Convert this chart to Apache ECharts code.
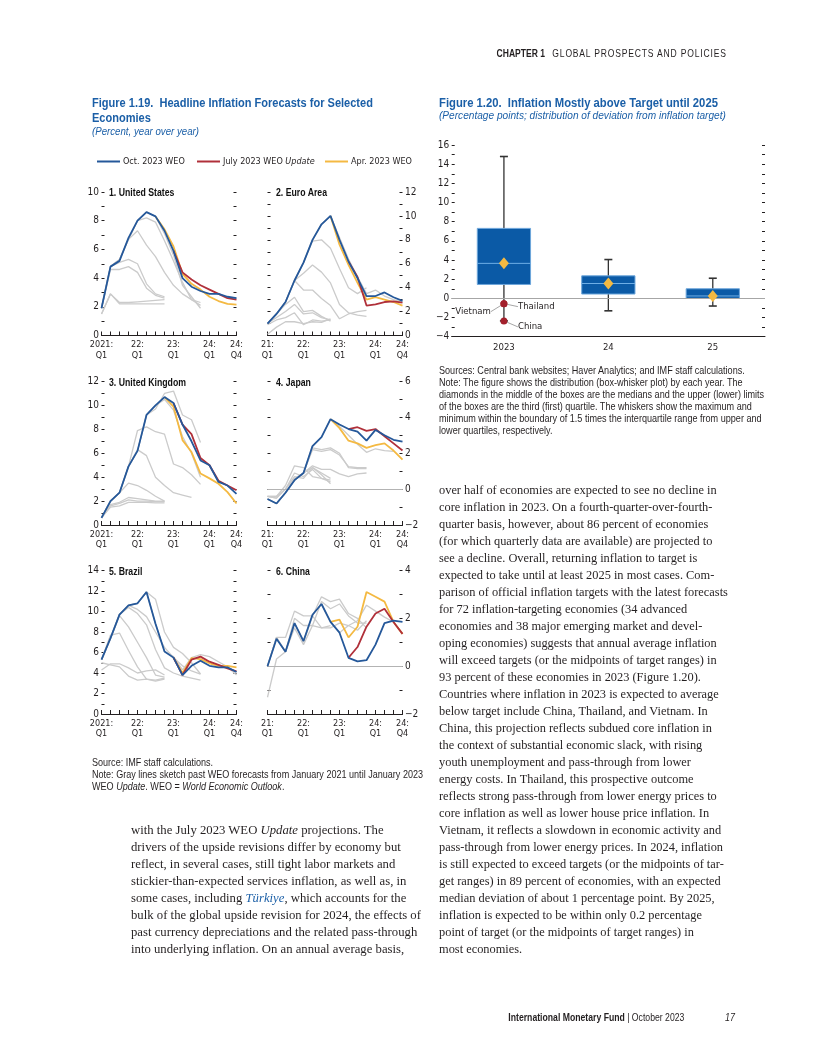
<!DOCTYPE html>
<html><head><meta charset="utf-8">
<script src="https://cdn.jsdelivr.net/npm/echarts@6/dist/echarts.min.js"></script>
<style>
html,body{margin:0;padding:0;background:#fff;}
#page{position:relative;width:816px;height:1056px;overflow:hidden;background:#fff;}
#chart{position:absolute;left:0;top:0;width:816px;height:1056px;}
.t{position:absolute;white-space:nowrap;font-family:"Liberation Sans",Arial,sans-serif;transform-origin:0 0;}
.t.r{transform-origin:100% 0;}
.ttl{color:#1b5fa7;font-weight:bold;font-size:12.5px;line-height:15px;}
.sub{color:#1b5fa7;font-style:italic;font-size:11.5px;line-height:13px;}
.note{color:#231f20;font-size:10.5px;line-height:12px;}
.pt{color:#111;font-weight:bold;font-size:10.5px;line-height:14px;transform:scaleX(0.83);}
.col{position:absolute;font-family:"Liberation Serif",serif;font-size:13px;line-height:17px;color:#231f20;transform-origin:0 0;}
.col div{white-space:nowrap;}
</style>
</head><body>
<div id="page">
<div id="chart"></div>

<div class="t r fit" data-w="230" style="right:89px;top:46px;font-size:10.5px;line-height:14px;color:#231f20;"><b>CHAPTER 1</b><span style="margin-left:9px;letter-spacing:1px;">GLOBAL PROSPECTS AND POLICIES</span></div>

<div class="t ttl fit" data-w="281" style="left:92px;top:96px;"><div>Figure 1.19.&nbsp; Headline Inflation Forecasts for Selected</div><div>Economies</div></div>
<div class="t sub fit" data-w="107" style="left:92px;top:125px;">(Percent, year over year)</div>

<div class="t ttl fit" data-w="279" style="left:439px;top:96px;">Figure 1.20.&nbsp; Inflation Mostly above Target until 2025</div>
<div class="t sub fit" data-w="287" style="left:439px;top:109px;">(Percentage points; distribution of deviation from inflation target)</div>

<div class="t pt" style="left:109px;top:185px;">1. United States</div>
<div class="t pt" style="left:276px;top:185px;">2. Euro Area</div>
<div class="t pt" style="left:109px;top:374.5px;">3. United Kingdom</div>
<div class="t pt" style="left:276px;top:374.5px;">4. Japan</div>
<div class="t pt" style="left:109px;top:563.5px;">5. Brazil</div>
<div class="t pt" style="left:276px;top:563.5px;">6. China</div>

<div class="t note fit" data-w="331" style="left:92px;top:756px;"><div>Source: IMF staff calculations.</div><div>Note: Gray lines sketch past WEO forecasts from January 2021 until January 2023</div><div>WEO <i>Update</i>. WEO = <i>World Economic Outlook</i>.</div></div>

<div class="t note fit" data-w="325" style="left:439px;top:364px;"><div>Sources: Central bank websites; Haver Analytics; and IMF staff calculations.</div><div>Note: The figure shows the distribution (box-whisker plot) by each year. The</div><div>diamonds in the middle of the boxes are the medians and the upper (lower) limits</div><div>of the boxes are the third (first) quartile. The whiskers show the maximum and</div><div>minimum within the boundary of 1.5 times the interquartile range from upper and</div><div>lower quartiles, respectively.</div></div>

<div class="col" id="colL" style="left:131px;top:821px;">
<div>with the July 2023 WEO <i>Update</i> projections. The</div>
<div>drivers of the upside revisions differ by economy but</div>
<div>reflect, in several cases, still tight labor markets and</div>
<div>stickier-than-expected services inflation, as well as, in</div>
<div>some cases, including <i style="color:#1b5fa7">Türkiye</i>, which accounts for the</div>
<div>bulk of the global upside revision for 2024, the effects of</div>
<div>past currency depreciations and the related pass-through</div>
<div>into underlying inflation. On an annual average basis,</div>
</div>

<div class="col" id="colR" style="left:439px;top:481px;">
<div>over half of economies are expected to see no decline in</div>
<div>core inflation in 2023. On a fourth-quarter-over-fourth-</div>
<div>quarter basis, however, about 86 percent of economies</div>
<div>(for which quarterly data are available) are projected to</div>
<div>see a decline. Overall, returning inflation to target is</div>
<div>expected to take until at least 2025 in most cases. Com-</div>
<div>parison of official inflation targets with the latest forecasts</div>
<div>for 72 inflation-targeting economies (34 advanced</div>
<div>economies and 38 major emerging market and devel-</div>
<div>oping economies) suggests that annual average inflation</div>
<div>will exceed targets (or the midpoints of target ranges) in</div>
<div>93 percent of these economies in 2023 (Figure 1.20).</div>
<div>Countries where inflation in 2023 is expected to average</div>
<div>below target include China, Thailand, and Vietnam. In</div>
<div>China, this projection reflects subdued core inflation in</div>
<div>the context of substantial economic slack, with rising</div>
<div>youth unemployment and pass-through from lower</div>
<div>energy costs. In Thailand, this prospective outcome</div>
<div>reflects strong pass-through from lower energy prices to</div>
<div>core inflation as well as lower house price inflation. In</div>
<div>Vietnam, it reflects a slowdown in economic activity and</div>
<div>pass-through from lower energy prices. In 2024, inflation</div>
<div>is still expected to exceed targets (or the midpoints of tar-</div>
<div>get ranges) in 89 percent of economies, with an expected</div>
<div>median deviation of about 1 percentage point. By 2025,</div>
<div>inflation is expected to be within only 0.2 percentage</div>
<div>point of target (or the midpoints of target ranges) in</div>
<div>most economies.</div>
</div>

<div class="t r fit" data-w="176" style="right:132px;top:1010px;font-size:10.5px;line-height:14px;color:#231f20;"><b>International Monetary Fund</b> | October 2023</div>
<div class="t" style="left:725px;top:1010px;font-size:10.5px;line-height:14px;font-style:italic;color:#231f20;transform:scaleX(0.85);">17</div>
</div>

<script>
// ---------------- DATA ----------------
const quarters = ['2021Q1','2021Q2','2021Q3','2021Q4','2022Q1','2022Q2','2022Q3','2022Q4',
                  '2023Q1','2023Q2','2023Q3','2023Q4','2024Q1','2024Q2','2024Q3','2024Q4'];
const tickIdx = [0, 4, 8, 12, 15];
const tickLabelsLong  = ['2021:\nQ1', '22:\nQ1', '23:\nQ1', '24:\nQ1', '24:\nQ4'];
const tickLabelsShort = ['21:\nQ1', '22:\nQ1', '23:\nQ1', '24:\nQ1', '24:\nQ4'];
const seriesNames = ['Oct. 2023 WEO', 'July 2023 WEO Update', 'Apr. 2023 WEO'];
const panelRanges = [[0, 10], [0, 12], [0, 12], [-2, 6], [0, 14], [-2, 4]];

const N = null;
// 1. United States
const usOct = [1.9, 4.8, 5.2, 6.8, 8.0, 8.6, 8.3, 7.3, 5.9, 4.0, 3.4, 3.1, 2.9, 2.9, 2.7, 2.6];
const usJul = [N, N, N, N, N, N, N, N, 5.9, 4.4, 3.9, 3.5, 3.2, 2.9, 2.6, 2.5];
const usApr = [N, N, N, N, N, N, 8.3, 7.4, 6.2, 4.3, 3.6, 3.2, 2.7, 2.4, 2.2, 2.15];
const usPast = [
  [1.5, 2.9, 2.3, 2.3, 2.35, 2.4, 2.45, 2.5],
  [1.5, 2.9, 2.2, 2.2, 2.2, 2.2, 2.2, 2.2],
  [1.9, 4.6, 4.6, 4.8, 4.4, 3.3, 2.8, 2.6],
  [1.9, 4.8, 5.1, 5.3, 5.0, 3.6, 2.9, 2.7],
  [1.9, 4.8, 5.3, 6.7, 7.3, 6.3, 5.5, 4.4, 3.5, 2.9, 2.5, 2.3],
  [1.9, 4.8, 5.3, 6.7, 8.0, 8.2, 7.9, 6.6, 5.2, 3.7, 2.5, 2.1],
  [1.9, 4.8, 5.3, 6.7, 8.0, 8.6, 8.3, 7.1, 5.6, 3.5, 2.7, 1.9]
];
// 2. Euro Area
const euOct = [1.0, 1.8, 2.8, 4.6, 6.1, 8.0, 9.3, 10.0, 8.0, 6.2, 4.8, 3.3, 3.3, 3.6, 3.2, 2.9];
const euJul = [N, N, N, N, N, N, N, N, N, 6.2, 4.9, 2.5, 2.6, 2.8, 2.85, 2.75];
const euApr = [N, N, N, N, N, N, N, 10.0, 7.6, 5.9, 4.4, 3.0, 3.2, 3.0, 2.8, 2.5];
const euPast = [
  [0.1, 0.7, 1.15, 1.15, 1.0, 1.15, 1.1, 1.4],
  [0.9, 1.3, 1.5, 1.9, 0.9, 1.3, 1.2, 1.3],
  [1.0, 1.5, 2.0, 2.6, 1.8, 1.9, 1.5, 1.3],
  [1.0, 1.8, 2.6, 3.2, 2.0, 2.1, 1.6, 1.2],
  [1.0, 1.8, 2.8, 4.6, 3.8, 3.8, 3.1, 2.5, 1.4, 1.8, 2.0, 2.1],
  [1.0, 1.8, 2.8, 4.6, 5.2, 5.9, 5.3, 4.4, 2.6, 1.9, 1.7, 1.6],
  [1.0, 1.8, 2.8, 4.6, 6.1, 7.9, 8.0, 7.3, 5.6, 4.0, 3.5, 4.0],
  [1.0, 1.8, 2.8, 4.6, 6.1, 8.0, 9.3, 10.0, 8.2, 6.4, 4.9, 3.5, 3.8, 3.3, 3.0, 2.8]
];
// 3. United Kingdom
const ukOct = [0.6, 2.0, 2.7, 4.9, 6.2, 9.2, 10.0, 10.7, 10.2, 8.4, 7.0, 5.4, 5.0, 3.6, 3.3, 2.6];
const ukJul = [N, N, N, N, N, N, N, N, 10.2, 8.4, 7.6, 5.6, 5.0, 3.7, 3.3, 2.9];
const ukApr = [N, N, N, N, N, N, N, 10.7, 9.9, 7.1, 6.1, 4.3, 3.9, 3.45, 2.75, 1.8];
const ukPast = [
  [0.6, 1.5, 1.6, 1.9, 1.9, 1.9, 1.85, 1.85],
  [0.6, 1.6, 1.8, 2.1, 2.0, 2.0, 1.95, 1.95],
  [0.6, 1.7, 1.9, 2.3, 2.2, 2.1, 2.0, 2.0],
  [0.6, 2.0, 2.7, 3.5, 3.3, 2.9, 2.4, 2.0],
  [0.6, 2.0, 2.7, 4.9, 6.3, 5.8, 4.0, 3.3, 2.7, 2.5, 2.3],
  [0.6, 2.0, 2.7, 4.9, 7.9, 8.2, 7.8, 7.6, 5.1, 4.8, 4.2, 3.4],
  [0.6, 2.0, 2.7, 4.9, 6.2, 9.2, 9.7, 11.0, 11.2, 9.2, 8.8, 6.9],
  [0.6, 2.0, 2.7, 4.9, 6.2, 9.2, 10.0, 10.5, 9.6, 7.4, 6.0, 4.0]
];
// 4. Japan
const jpOct = [-0.55, -0.8, -0.2, 0.5, 0.9, 2.4, 2.9, 3.9, 3.6, 3.35, 3.2, 2.7, 3.3, 3.0, 2.75, 2.65];
const jpJul = [N, N, N, N, N, N, N, N, N, 3.35, 3.45, 3.25, 3.35, 2.95, 2.55, 2.15];
const jpApr = [N, N, N, N, N, N, N, 3.9, 3.4, 2.7, 2.55, 2.3, 2.45, 2.55, 2.15, 1.65];
const jpPast = [
  [-0.4, -0.5, 0.0, 0.9, 0.7, 1.1, 0.6, 0.5],
  [-0.4, -0.4, 0.2, 1.3, 1.2, 0.7, 0.6, 0.4],
  [-0.4, -0.4, 0.0, 0.7, 0.6, 1.2, 0.8, 0.3],
  [-0.4, -0.5, 0.0, 0.6, 0.9, 1.2, 0.9, 0.6],
  [-0.55, -0.8, -0.2, 0.5, 0.9, 2.3, 2.2, 2.3, 2.0, 1.2, 1.15, 1.15],
  [-0.55, -0.8, -0.2, 0.5, 0.9, 2.2, 2.1, 2.2, 1.9, 1.25, 1.2, 1.2],
  [-0.55, -0.8, -0.2, 0.5, 0.9, 1.3, 1.1, 1.1, 0.85, 0.7, 0.85, 0.9],
  [-0.55, -0.8, -0.2, 0.5, 0.9, 2.4, 2.9, 3.9, 3.5, 3.0, 2.5, 2.05, 2.25, 2.15, 2.1]
];
// 5. Brazil
const brOct = [5.3, 7.4, 9.7, 10.6, 10.8, 11.9, 8.8, 6.1, 5.5, 3.8, 4.7, 5.2, 4.7, 4.55, 4.55, 4.1];
const brJul = [N, N, N, N, N, N, N, N, 5.5, 3.8, 5.3, 5.6, 5.1, 4.8, 4.45, 4.15];
const brApr = [N, N, N, N, N, N, N, N, 5.5, 4.0, 5.45, 5.35, 4.95, 4.7, 4.7, 4.55];
const brPast = [
  [4.3, 4.9, 4.9, 4.5, 4.0, 4.2, 4.3, 3.8],
  [5.0, 4.8, 4.6, 3.7, 3.3, 3.4, 3.2, 3.4],
  [5.3, 7.7, 7.9, 6.2, 4.6, 3.4, 3.3, 3.5],
  [5.3, 7.4, 9.6, 8.5, 7.0, 5.5, 3.8, 3.6],
  [5.3, 7.4, 9.7, 10.4, 9.8, 8.7, 6.3, 4.5, 4.0, 3.7, 3.5, 3.3],
  [5.3, 7.4, 9.7, 10.6, 10.2, 9.5, 8.0, 6.5, 5.5, 4.7, 4.2, 3.9],
  [5.3, 7.4, 9.7, 10.6, 10.8, 11.9, 11.2, 8.0, 6.5, 5.9, 5.0, 3.9],
  [5.3, 7.4, 9.7, 10.6, 10.8, 11.9, 8.8, 6.1, 5.6, 4.3, 5.5, 5.8, 5.6, 5.1, 4.6, 3.8]
];
// 6. China
const cnOct = [0.0, 1.15, 0.6, 1.8, 1.05, 2.15, 2.6, 1.85, 1.4, 0.35, 0.2, 0.25, 0.9, 1.8, 1.9, 1.85];
const cnJul = [N, N, N, N, N, N, N, N, N, 0.35, 0.8, 1.65, 2.2, 2.4, 1.85, 1.35];
const cnApr = [N, N, N, N, N, N, N, 1.85, 1.95, 1.2, 1.65, 3.1, 2.9, 2.7, 1.85, 1.35];
const cnPast = [
  [-1.3, 0.3, 0.6, 1.6, 0.9, 1.7, 1.6, 1.7],
  [0.0, 1.2, 1.2, 2.3, 2.1, 2.1, 2.9, 2.7, 2.8, 2.2, 2.0, 1.6],
  [0.0, 1.2, 0.6, 2.0, 1.7, 1.7, 2.7, 2.4, 2.6, 2.1, 1.8, 1.8],
  [0.0, 1.2, 0.6, 1.8, 1.0, 2.1, 1.6, 1.6, 1.8, 1.7, 1.5, 1.9],
  [0.0, 1.15, 0.6, 1.8, 1.05, 2.15, 2.6, 1.85, 1.4, 1.7, 1.9, 2.55, 2.3, 2.05, 1.85]
];

// Figure 1.20 box-whisker data
const boxYears = ['2023', '24', '25'];
const boxMin = [-2.35, -1.3, -0.8];
const boxQ1  = [1.45, 0.45, 0.0];
const boxMed = [3.65, 1.55, 0.25];
const boxQ3  = [7.3, 2.35, 1.0];
const boxMax = [14.8, 4.05, 2.1];
const outlierNames  = ['Vietnam', 'Thailand', 'China'];
const outlierYear   = [0, 0, 0];
const outlierValues = [-0.55, -0.55, -2.35];

// ---------------- CHART ----------------
const FF = '"DejaVu Sans Condensed","Liberation Sans",sans-serif';
const FS = 9;
const C_OCT = '#25589a', C_JUL = '#b0303a', C_APR = '#f4b942', C_GRAY = '#cbcbcb', INK = '#231f20';
const fmtNum = v => (v < 0 ? '\u2212' + Math.abs(v) : String(v));

const panels = [
  {oct: usOct, jul: usJul, apr: usApr, past: usPast},
  {oct: euOct, jul: euJul, apr: euApr, past: euPast},
  {oct: ukOct, jul: ukJul, apr: ukApr, past: ukPast},
  {oct: jpOct, jul: jpJul, apr: jpApr, past: jpPast, zero: true},
  {oct: brOct, jul: brJul, apr: brApr, past: brPast},
  {oct: cnOct, jul: cnJul, apr: cnApr, past: cnPast, zero: true}
];
const colLeft = [101.5, 267.5], rowTop = [192, 381.5, 570.5], PW = 135, PH = 143.5;

const grid = [], xAxis = [], yAxis = [], series = [];
panels.forEach((p, gi) => {
  const c = gi % 2, r = Math.floor(gi / 2);
  const left = colLeft[c], top = rowTop[r];
  grid.push({left: left, top: top, width: PW, height: PH});
  const labs = c === 0 ? tickLabelsLong : tickLabelsShort;
  xAxis.push({
    type: 'category', gridIndex: gi, data: quarters, boundaryGap: false,
    axisLine: {onZero: false, lineStyle: {color: INK, width: 1}},
    axisTick: {inside: true, length: 4, interval: 0, lineStyle: {color: INK, width: 1}},
    axisLabel: {
      interval: i => tickIdx.includes(i),
      formatter: (v, i) => { const k = tickIdx.indexOf(i); return k >= 0 ? labs[k] : ''; },
      fontFamily: FF, fontSize: FS, lineHeight: 10.5, color: INK, margin: 4
    },
    splitLine: {show: false}
  });
  const rg = panelRanges[gi];
  ['left', 'right'].forEach((pos, k) => {
    const showLab = (c === 0 && k === 0) || (c === 1 && k === 1);
    yAxis.push({
      type: 'value', gridIndex: gi, position: pos, min: rg[0], max: rg[1], interval: 1,
      axisLine: {show: false},
      axisTick: {show: true, inside: true, length: 3, lineStyle: {color: INK, width: 1}},
      splitLine: {show: false},
      axisLabel: {show: showLab, formatter: v => (v % 2 === 0 ? fmtNum(v) : ''),
                  fontFamily: FF, fontSize: FS + 1, color: INK, margin: 2.5}
    });
  });
  const ya = gi * 2;
  p.past.forEach((d, j) => {
    const s = {type: 'line', name: 'past', xAxisIndex: gi, yAxisIndex: ya, data: d,
      symbol: 'none', silent: true, z: 2, lineStyle: {color: C_GRAY, width: 1.3}, itemStyle: {color: C_GRAY}};
    if (j === 0 && p.zero) {
      s.markLine = {silent: true, symbol: 'none', label: {show: false},
        lineStyle: {color: '#b3b3b3', width: 1, type: 'solid'}, data: [{yAxis: 0}]};
    }
    series.push(s);
  });
  [[p.apr, seriesNames[2], C_APR, 3], [p.jul, seriesNames[1], C_JUL, 4], [p.oct, seriesNames[0], C_OCT, 5]]
    .forEach(([d, nm, col, z]) => series.push({type: 'line', name: nm, xAxisIndex: gi, yAxisIndex: ya,
      data: d, symbol: 'none', z: z, silent: true, lineStyle: {color: col, width: 1.8}, itemStyle: {color: col}}));
});

// Figure 1.20 grid
const BG = 6;
grid.push({left: 451.7, top: 145, width: 313.3, height: 191.7});
xAxis.push({type: 'category', gridIndex: BG, data: boxYears, boundaryGap: true,
  axisLine: {onZero: false, lineStyle: {color: INK, width: 1}},
  axisTick: {inside: true, length: 4, lineStyle: {color: INK}},
  axisLabel: {fontFamily: FF, fontSize: FS + 0.5, color: INK, margin: 6}});
['left', 'right'].forEach((pos, k) => yAxis.push({
  type: 'value', gridIndex: BG, position: pos, min: -4, max: 16, interval: 1,
  axisLine: {show: false}, splitLine: {show: false},
  axisTick: {show: true, inside: true, length: 3, lineStyle: {color: INK}},
  axisLabel: {show: k === 0, formatter: v => (v % 2 === 0 ? fmtNum(v) : ''), fontFamily: FF, fontSize: FS + 1, color: INK, margin: 2.5}
}));
const BY = BG * 2;
series.push({type: 'line', xAxisIndex: BG, yAxisIndex: BY, data: boxMed.map((m, i) => [i, m]),
  symbol: 'none', lineStyle: {opacity: 0}, silent: true, z: 1,
  markLine: {silent: true, symbol: 'none', label: {show: false},
    lineStyle: {color: '#a6a6a6', width: 1, type: 'solid'}, data: [{yAxis: 0}]}});
series.push({
  type: 'custom', xAxisIndex: BG, yAxisIndex: BY, z: 3, silent: true,
  data: boxYears.map((y, i) => [i, boxMin[i], boxQ1[i], boxMed[i], boxQ3[i], boxMax[i]]),
  encode: {x: 0, y: [1, 2, 3, 4, 5]},
  renderItem: (params, api) => {
    const i = api.value(0);
    const pMin = api.coord([i, api.value(1)]), pQ1 = api.coord([i, api.value(2)]),
          pMed = api.coord([i, api.value(3)]), pQ3 = api.coord([i, api.value(4)]),
          pMax = api.coord([i, api.value(5)]);
    const cx = pMin[0], bw = api.size([1, 0])[0] * 0.51, cap = 4;
    return {type: 'group', children: [
      {type: 'line', shape: {x1: cx, y1: pMax[1], x2: cx, y2: pMin[1]}, style: {stroke: '#333', lineWidth: 1.3}},
      {type: 'line', shape: {x1: cx - cap, y1: pMax[1], x2: cx + cap, y2: pMax[1]}, style: {stroke: '#333', lineWidth: 1.6}},
      {type: 'line', shape: {x1: cx - cap, y1: pMin[1], x2: cx + cap, y2: pMin[1]}, style: {stroke: '#333', lineWidth: 1.6}},
      {type: 'rect', shape: {x: cx - bw / 2, y: pQ3[1], width: bw, height: pQ1[1] - pQ3[1]},
        style: {fill: '#0b5aa6', stroke: '#6ea7dc', lineWidth: 1}},
      {type: 'line', shape: {x1: cx - bw / 2, y1: pMed[1], x2: cx + bw / 2, y2: pMed[1]}, style: {stroke: '#6eaee6', lineWidth: 1}}
    ]};
  }
});
series.push({type: 'scatter', xAxisIndex: BG, yAxisIndex: BY, z: 5, silent: true,
  symbol: 'diamond', symbolSize: [10, 12], itemStyle: {color: C_APR, opacity: 1},
  data: boxMed.map((m, i) => [i, m])});
const labOffsets = [{dx: -13, dy: 8, align: 'right'}, {dx: 14, dy: 3, align: 'left'}, {dx: 14, dy: 6, align: 'left'}];
series.push({type: 'scatter', xAxisIndex: BG, yAxisIndex: BY, z: 6, silent: true,
  symbol: 'circle', symbolSize: 7, itemStyle: {color: '#a3202c', opacity: 1},
  data: outlierNames.map((n, i) => [outlierYear[i], outlierValues[i], n]),
  label: {show: true, position: 'inside', formatter: p => p.value[2], fontFamily: FF, fontSize: FS + 0.5, color: INK, verticalAlign: 'middle'},
  labelLine: {show: true, lineStyle: {color: '#8f8f8f', width: 0.8}},
  labelLayout: p => Object.assign({verticalAlign: 'middle'}, labOffsets[p.dataIndex])
});

const legendBase = {icon: 'rect', itemWidth: 23, itemHeight: 2, itemGap: 0, selectedMode: false, padding: 0,
  textStyle: {fontFamily: FF, fontSize: FS, color: INK, padding: [0, 0, 0, -2], rich: {i: {fontFamily: FF, fontSize: FS, color: INK, fontStyle: 'italic'}}}};
const legend = [
  Object.assign({}, legendBase, {data: [seriesNames[0]], left: 97, top: 157}),
  Object.assign({}, legendBase, {data: [seriesNames[1]], left: 197, top: 157,
    formatter: n => 'July 2023 WEO {i|Update}'}),
  Object.assign({}, legendBase, {data: [seriesNames[2]], left: 325, top: 157})
];

const chart = echarts.init(document.getElementById('chart'), null, {renderer: 'canvas'});
chart.setOption({animation: false, backgroundColor: 'transparent', legend, grid, xAxis, yAxis, series});

// fit narrow caption blocks to their measured widths (emulates a condensed face)
document.querySelectorAll('.fit').forEach(el => {
  const w = el.getBoundingClientRect().width;
  const target = parseFloat(el.dataset.w);
  el.style.transform = 'scaleX(' + (target / w).toFixed(3) + ')';
});
// fit body text columns to the page measure
function fitCol(id, target) {
  const el = document.getElementById(id);
  const rows = el.querySelectorAll('div');
  rows.forEach(d => d.style.display = 'inline-block');
  let w = 0;
  rows.forEach(d => { const r = d.getBoundingClientRect().width; if (r > w) w = r; });
  rows.forEach(d => d.style.display = 'block');
  el.style.transform = 'scaleX(' + (target / w).toFixed(3) + ')';
}
fitCol('colL', 290);
fitCol('colR', 289);
</script>
</body></html>
